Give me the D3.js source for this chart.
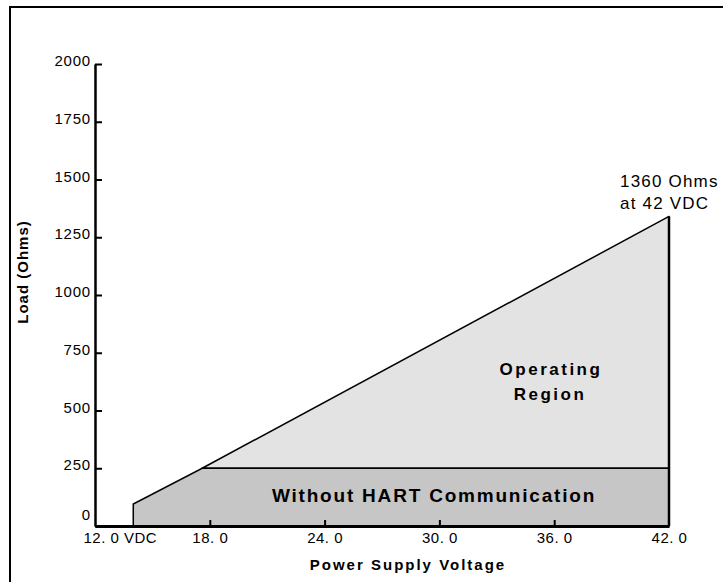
<!DOCTYPE html>
<html>
<head>
<meta charset="utf-8">
<script src="https://cdn.jsdelivr.net/npm/d3@7"></script>
<style>
  body { margin: 0; background: #fff; }
  text { font-family: "Liberation Sans", Arial, sans-serif; fill: #000; }
  .tick text { font-size: 15px; letter-spacing: 0.5px; }
  .lbl { font-weight: bold; }
</style>
</head>
<body>
<div id="chart"></div>
<script>
// axis ticks
var voltTicks = [12, 18, 24, 30, 36, 42];
var voltLabels = ["12. 0 VDC", "18. 0", "24. 0", "30. 0", "36. 0", "42. 0"];
var loadTicks = [0, 250, 500, 750, 1000, 1250, 1500, 1750, 2000];

// boundary of the operating region (volts, ohms)
var operVolts = [17.6, 42, 42];
var operLoads = [250, 1340, 250];

// without HART region
var hartVolts = [14, 14, 17.6, 42, 42];
var hartLoads = [0, 95, 250, 250, 0];

var width = 723, height = 582;

var svg = d3.select("#chart").append("svg")
    .attr("width", width)
    .attr("height", height);

// frame
svg.append("rect")
    .attr("x", 10).attr("y", 7)
    .attr("width", 730).attr("height", 600)
    .style("fill", "none")
    .style("stroke", "#000")
    .style("stroke-width", 2);

var x = d3.scaleLinear().domain([12, 42]).range([95, 669]);
var y = d3.scaleLinear().domain([0, 2000]).range([526, 64]);

var line = d3.line()
    .x(function(d) { return x(d[0]); })
    .y(function(d) { return y(d[1]); });

var operPts = operVolts.map(function(v, i) { return [v, operLoads[i]]; });
var hartPts = hartVolts.map(function(v, i) { return [v, hartLoads[i]]; });

svg.append("path")
    .attr("d", line(operPts) + "Z")
    .style("fill", "#e3e3e3")
    .style("stroke", "#000")
    .style("stroke-width", 1.5)
    .style("stroke-linejoin", "round");

svg.append("path")
    .attr("d", line(hartPts) + "Z")
    .style("fill", "#c6c6c6")
    .style("stroke", "#000")
    .style("stroke-width", 1.5);

// right edge a bit heavier
svg.append("line")
    .attr("x1", x(42)).attr("x2", x(42))
    .attr("y1", y(operLoads[1])).attr("y2", y(0))
    .style("stroke", "#000")
    .style("stroke-width", 2.5);

var yAxis = d3.axisLeft(y)
    .tickValues(loadTicks)
    .tickFormat(d3.format("d"))
    .tickSizeInner(-7)
    .tickSizeOuter(0)
    .tickPadding(4);

var gy = svg.append("g")
    .attr("transform", "translate(" + x(12) + ",0)")
    .call(yAxis);
gy.select(".domain").style("stroke-width", 2.5);
gy.selectAll(".tick line").style("stroke-width", 2);
gy.selectAll(".tick text").attr("dy", "0.1em").style("letter-spacing", "0.8px");
// the zero label sits a little above the axis
gy.selectAll(".tick text").filter(function(d) { return d === 0; })
    .attr("dy", "-0.45em");

var xAxis = d3.axisBottom(x)
    .tickValues(voltTicks)
    .tickFormat(function(d, i) { return voltLabels[i]; })
    .tickSizeInner(-6)
    .tickSizeOuter(0)
    .tickPadding(6);

var gx = svg.append("g")
    .attr("transform", "translate(0," + y(0) + ")")
    .call(xAxis);
gx.select(".domain").style("stroke-width", 3);
gx.selectAll(".tick line").style("stroke-width", 2);
gx.selectAll(".tick text").filter(function(d) { return d === 12; })
    .attr("text-anchor", "start")
    .attr("dx", -12);
gx.selectAll(".tick").filter(function(d) { return d === 12 || d === 42; })
    .select("line").remove();

// axis titles
svg.append("text")
    .attr("class", "lbl")
    .attr("x", 408).attr("y", 570)
    .attr("text-anchor", "middle")
    .style("font-size", "15px")
    .style("letter-spacing", "2px")
    .text("Power Supply Voltage");

svg.append("text")
    .attr("class", "lbl")
    .attr("transform", "translate(28,272) rotate(-90)")
    .attr("text-anchor", "middle")
    .style("font-size", "15px")
    .style("letter-spacing", "1px")
    .text("Load (Ohms)");

// region labels
svg.append("text")
    .attr("class", "lbl")
    .attr("x", 551).attr("y", 375)
    .attr("text-anchor", "middle")
    .style("font-size", "17px")
    .style("letter-spacing", "2.5px")
    .text("Operating");

svg.append("text")
    .attr("class", "lbl")
    .attr("x", 550).attr("y", 400)
    .attr("text-anchor", "middle")
    .style("font-size", "17px")
    .style("letter-spacing", "2.5px")
    .text("Region");

svg.append("text")
    .attr("class", "lbl")
    .attr("x", 434).attr("y", 502)
    .attr("text-anchor", "middle")
    .style("font-size", "19px")
    .style("letter-spacing", "1.8px")
    .text("Without HART Communication");

// note at the top corner
svg.append("text")
    .attr("x", 620).attr("y", 187)
    .style("font-size", "17px")
    .style("letter-spacing", "1.2px")
    .text("1360 Ohms");

svg.append("text")
    .attr("x", 620).attr("y", 209)
    .style("font-size", "17px")
    .style("letter-spacing", "1.2px")
    .text("at 42 VDC");
</script>
</body>
</html>
